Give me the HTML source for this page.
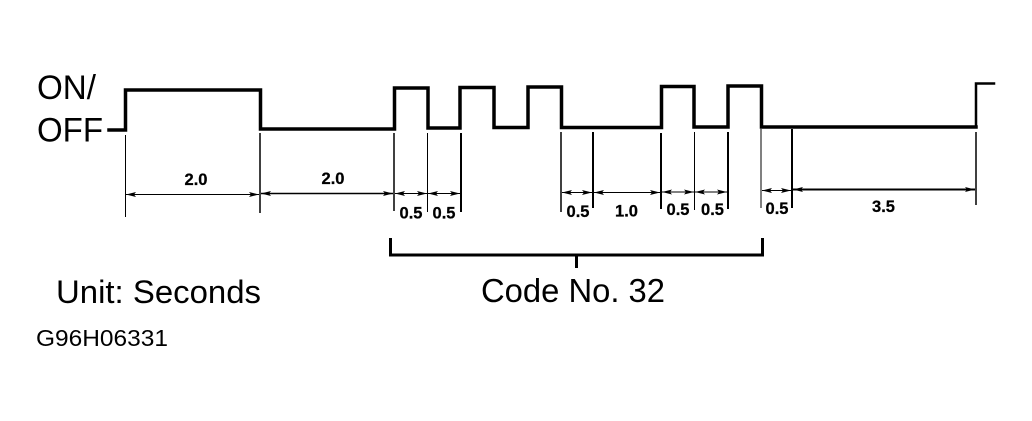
<!DOCTYPE html>
<html><head><meta charset="utf-8"><style>
html,body{margin:0;padding:0;background:#fff;width:1032px;height:421px;overflow:hidden}
svg{display:block}
text{font-family:"Liberation Sans",sans-serif;fill:#000}
.b{font-size:16.5px;font-weight:bold;text-anchor:middle;stroke:#000;stroke-width:.25px}
.l{font-size:34px}
</style></head><body>
<svg width="1032" height="421" viewBox="0 0 1032 421" xmlns="http://www.w3.org/2000/svg">
<defs>
<marker id="e" markerWidth="10" markerHeight="6" refX="10" refY="3" orient="auto" markerUnits="userSpaceOnUse"><path d="M0 .5L10 3L0 5.500L2 3Z" fill="#000"/></marker>
<marker id="s" markerWidth="10" markerHeight="6" refX="0" refY="3" orient="auto" markerUnits="userSpaceOnUse"><path d="M10 .5L0 3L10 5.500L8 3Z" fill="#000"/></marker>
</defs>
<g fill="none" stroke="#000" stroke-linecap="square" stroke-linejoin="miter">
<path stroke-width="3.500" d="M109 130H125.500V90H260.500V129H394.500V88H428V128H460V87.500H494V127.500H528V87H561.500V127.500H661.500V86.500H694V127H728V86H761.500V127H976"/>
<path stroke-width="2.500" d="M976 127V83.500H994"/>
<g stroke-linecap="butt">
<path stroke-width="1" d="M125.500 135V217M427.500 133V212M694.500 132V210M761 129V208"/>
<path stroke-width="1.500" d="M260 133V213M394 133V211M561 132V212M976 132V205"/>
<path stroke-width="2" d="M461 133V212M593 132V208M661 133V209M728 132V209M792 129V208"/>
</g>
<g stroke-width="1" stroke-linecap="butt">
<path d="M126 194.500H259" marker-start="url(#s)" marker-end="url(#e)"/>
<path d="M261 193.500H393" marker-start="url(#s)" marker-end="url(#e)" stroke-width="1.500"/>
<path d="M395 193.500H427" marker-start="url(#s)" marker-end="url(#e)"/>
<path d="M428 193.500H460" marker-start="url(#s)" marker-end="url(#e)"/>
<path d="M562 192.500H592" marker-start="url(#s)" marker-end="url(#e)"/>
<path d="M594 192.500H660" marker-start="url(#s)" marker-end="url(#e)"/>
<path d="M662 192H694" marker-start="url(#s)" marker-end="url(#e)"/>
<path d="M695 192H727" marker-start="url(#s)" marker-end="url(#e)"/>
<path d="M762 190.500H791" marker-start="url(#s)" marker-end="url(#e)"/>
<path d="M793 189.500H975" marker-start="url(#s)" marker-end="url(#e)" stroke-width="2"/>
</g>
<path stroke-width="3" stroke-linecap="butt" d="M390.500 238V255H762.500V238M576.500 255V268"/>
</g>
<text x="37" y="99" class="l" textLength="59" lengthAdjust="spacingAndGlyphs">ON/</text>
<text x="37" y="141.500" class="l" textLength="66" lengthAdjust="spacingAndGlyphs">OFF</text>
<text class="b" x="196" y="185">2.0</text>
<text class="b" x="333" y="184">2.0</text>
<text class="b" x="411" y="218.500">0.5</text>
<text class="b" x="444" y="218.500">0.5</text>
<text class="b" x="578" y="217">0.5</text>
<text class="b" x="626.500" y="216.500">1.0</text>
<text class="b" x="678" y="215">0.5</text>
<text class="b" x="712.500" y="215">0.5</text>
<text class="b" x="777" y="214">0.5</text>
<text class="b" x="883.500" y="212">3.5</text>
<text x="56" y="303" font-size="32" textLength="205" lengthAdjust="spacingAndGlyphs">Unit: Seconds</text>
<text x="481" y="302" font-size="33" textLength="184" lengthAdjust="spacingAndGlyphs">Code No. 32</text>
<text x="36" y="346" font-size="23" textLength="132" lengthAdjust="spacingAndGlyphs">G96H06331</text>
</svg>
</body></html>
